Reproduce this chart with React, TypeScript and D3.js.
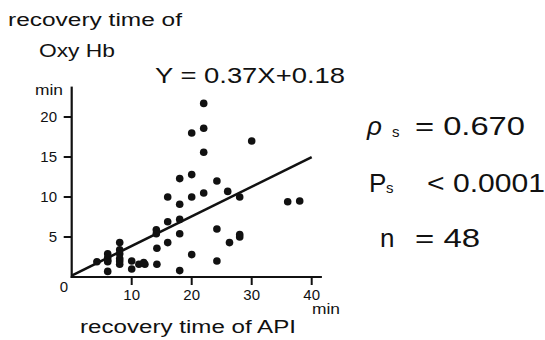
import React from "react";
import * as d3 from "d3";

const apiMin = [4.2, 6, 6, 6, 6, 6, 8, 8, 8, 8, 8, 8, 10, 10, 11.2, 12.2, 14.2, 14.2, 14.1, 14.1, 16, 16, 16, 18, 18, 18, 18, 18, 20, 20, 20, 20, 22, 22, 22, 22, 24.2, 24.2, 24.2, 26, 26.3, 28, 28, 28, 30, 36, 38, 12];
const oxyMin = [1.9, 2.9, 2.4, 2.1, 1.9, 0.7, 4.3, 3.4, 2.9, 2.3, 2.0, 1.6, 2.0, 1.0, 1.6, 1.6, 1.6, 3.6, 5.9, 5.4, 4.3, 6.9, 10.0, 9.1, 7.2, 5.4, 0.8, 12.3, 2.8, 10.0, 12.8, 18.0, 21.7, 18.6, 15.6, 10.5, 12.0, 6.0, 2.0, 10.7, 4.3, 10.0, 5.0, 5.3, 17.0, 9.4, 9.5, 1.8];
const fitX = [0, 40];
const fitY = [0.18, 14.98];
const xTicks = [10, 20, 30, 40];
const yTicks = [5, 10, 15, 20];

const FONT = "'Liberation Sans', Arial, sans-serif";

export default function App() {
  const x = d3.scaleLinear().domain([0, 40]).range([71.7, 311.7]);
  const y = d3.scaleLinear().domain([0, 20]).range([277, 117]);
  const line = d3.line<number>().x((d, i) => x(fitX[i])).y((d) => y(d));
  const x0 = x(0);
  const y0 = y(0);
  const xEnd = x(41.7);
  const yTop = y(23.8);
  return (
    <svg width={545} height={340} style={{ position: "absolute", left: 0, top: 0, background: "#fff" }} fontFamily={FONT} fill="#111">
      <rect width={545} height={340} fill="#fff" />
      <text x={8} y={26} fontSize={17.5} textLength={174} lengthAdjust="spacingAndGlyphs">recovery time of</text>
      <text x={39} y={57} fontSize={17.5} textLength={76} lengthAdjust="spacingAndGlyphs">Oxy Hb</text>
      <text x={155} y={83} fontSize={22} textLength={190} lengthAdjust="spacingAndGlyphs">Y = 0.37X+0.18</text>
      <text x={35} y={95} fontSize={14} textLength={28} lengthAdjust="spacingAndGlyphs">min</text>
      {/* axes */}
      <line x1={x0} x2={x0} y1={yTop} y2={y0 + 1} stroke="#111" strokeWidth={2.2} />
      <line x1={x0 - 1} x2={xEnd} y1={y0} y2={y0} stroke="#111" strokeWidth={2.2} />
      {yTicks.map((t) => (
        <g key={"y" + t}>
          <line x1={x0 - 8} x2={x0} y1={y(t)} y2={y(t)} stroke="#111" strokeWidth={2} />
          <text x={57} y={y(t)} dy="0.36em" fontSize={15} textAnchor="end">{t}</text>
        </g>
      ))}
      {xTicks.map((t) => (
        <g key={"x" + t}>
          <line x1={x(t)} x2={x(t)} y1={y0} y2={y0 + 8} stroke="#111" strokeWidth={2} />
          <text x={x(t)} y={300} fontSize={15} textAnchor="middle">{t}</text>
        </g>
      ))}
      <text x={64} y={292} fontSize={15} textAnchor="middle">0</text>
      <text x={312} y={314} fontSize={14} textLength={28} lengthAdjust="spacingAndGlyphs">min</text>
      <text x={80} y={333} fontSize={17.5} textLength={216} lengthAdjust="spacingAndGlyphs">recovery time of API</text>
      {/* regression line */}
      <path d={line(fitY) || ""} fill="none" stroke="#111" strokeWidth={2.6} />
      {/* points */}
      {apiMin.map((v, i) => (
        <circle key={i} cx={x(v)} cy={y(oxyMin[i])} r={3.8} fill="#111" />
      ))}
      {/* stats */}
      <text x={367} y={135} fontSize={26} fontStyle="italic">ρ</text>
      <text x={392} y={137} fontSize={15}>s</text>
      <text x={415} y={135} fontSize={26} textLength={110} lengthAdjust="spacingAndGlyphs">= 0.670</text>
      <text x={369} y={192} fontSize={26}>P</text>
      <text x={386} y={193} fontSize={15}>s</text>
      <text x={427} y={192} fontSize={26} textLength={118} lengthAdjust="spacingAndGlyphs">&lt; 0.0001</text>
      <text x={380} y={247} fontSize={26}>n</text>
      <text x={415} y={247} fontSize={26} textLength={65} lengthAdjust="spacingAndGlyphs">= 48</text>
    </svg>
  );
}
